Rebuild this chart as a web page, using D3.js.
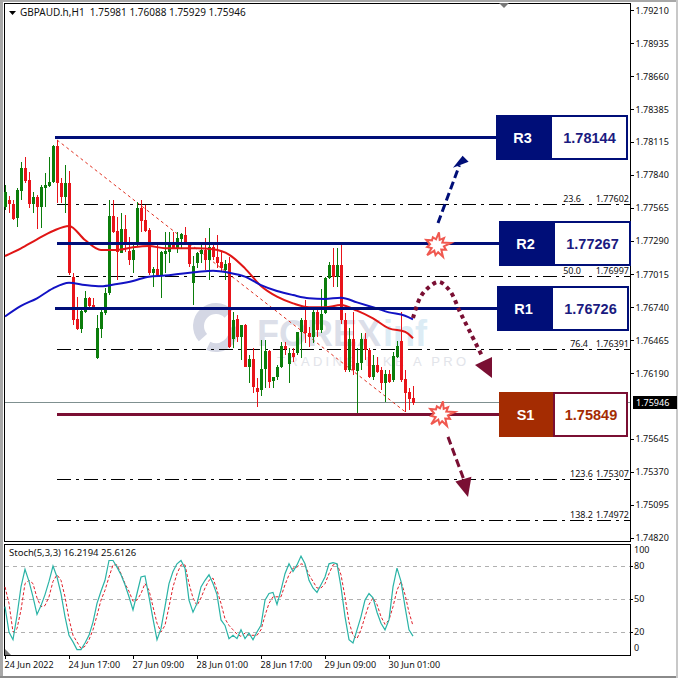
<!DOCTYPE html>
<html><head><meta charset="utf-8">
<script src="https://cdnjs.cloudflare.com/ajax/libs/d3/7.8.5/d3.min.js"></script>
<style>html,body{margin:0;padding:0;background:#fff}svg{display:block}
.ax text{font-family:"Noto Sans",sans-serif;font-size:9px;fill:#111}
.ax path,.ax line{stroke:#000;shape-rendering:crispEdges}</style>
</head><body><svg id="c" width="678" height="678"></svg>
<script>
const symbolTitle = "GBPAUD.h,H1  1.75981 1.76088 1.75929 1.75946";
const stochTitle = "Stoch(5,3,3) 16.2194 25.6126";
const priceTicks = [1.7921,1.78935,1.7866,1.78385,1.78115,1.7784,1.77565,1.7729,1.77015,1.7674,1.76465,1.7619,1.75645,1.7537,1.75095,1.7482];
const timeTickBars = [0,16,32,48,64,80,96];
const timeTickLabels = ["24 Jun 2022","24 Jun 17:00","27 Jun 09:00","28 Jun 01:00","28 Jun 17:00","29 Jun 09:00","30 Jun 01:00"];
const stochTicks = [100,80,50,20,0];
const stochLevels = [80,50,20];
const lastPrice = 1.75946;

const opens = [1.77571,1.77632,1.77598,1.77479,1.77709,1.77895,1.77798,1.77598,1.77654,1.77571,1.77729,1.77751,1.77784,1.78081,1.77776,1.77654,1.7777,1.76994,1.76639,1.76556,1.76703,1.76814,1.76759,1.76315,1.76556,1.76689,1.76856,1.77499,1.77374,1.77194,1.77388,1.77208,1.77133,1.77257,1.77562,1.77465,1.77382,1.77022,1.77055,1.77008,1.77183,1.77202,1.77266,1.7723,1.77305,1.77341,1.77257,1.76944,1.77105,1.77183,1.77216,1.77133,1.77244,1.77161,1.77119,1.7705,1.77105,1.76473,1.76639,1.76495,1.76592,1.76245,1.76306,1.76065,1.76051,1.76223,1.76378,1.76126,1.76157,1.7624,1.76417,1.76267,1.76362,1.76356,1.76536,1.76633,1.76528,1.76489,1.76697,1.7655,1.76689,1.7698,1.77091,1.76988,1.77091,1.76633,1.76218,1.76473,1.76212,1.76273,1.76473,1.76384,1.76157,1.76259,1.76218,1.76107,1.76184,1.76134,1.76328,1.76462,1.7614,1.76037,1.75981];
const highs = [1.77757,1.77665,1.77632,1.77729,1.7795,1.77992,1.77867,1.77701,1.77673,1.77757,1.77853,1.77992,1.78089,1.78131,1.77812,1.77923,1.77876,1.77027,1.76828,1.76731,1.76878,1.76828,1.76814,1.76675,1.76731,1.76897,1.77632,1.77632,1.77493,1.77521,1.77507,1.77327,1.77271,1.77618,1.77632,1.7759,1.77396,1.77077,1.77285,1.7721,1.77368,1.77368,1.77368,1.77368,1.77354,1.7741,1.77271,1.77166,1.77202,1.77285,1.77313,1.77396,1.77285,1.77341,1.77202,1.77133,1.7716,1.76703,1.76675,1.76592,1.766,1.76342,1.76398,1.76148,1.76467,1.76467,1.76384,1.76162,1.76259,1.76453,1.76453,1.76398,1.76398,1.76536,1.76647,1.768,1.76578,1.76744,1.7673,1.76888,1.76994,1.77118,1.77229,1.77229,1.77257,1.76689,1.76564,1.76703,1.76398,1.76523,1.76523,1.76398,1.76342,1.76328,1.76245,1.76218,1.76218,1.7637,1.76462,1.76703,1.76218,1.76065,1.76088];
const lows = [1.77549,1.77526,1.77465,1.77404,1.77632,1.7777,1.77562,1.77521,1.77388,1.77396,1.77576,1.77743,1.7777,1.77604,1.77604,1.77521,1.77008,1.76592,1.76551,1.76528,1.76695,1.76717,1.76717,1.7631,1.76481,1.76675,1.76842,1.77354,1.76966,1.77188,1.77202,1.77091,1.77022,1.77249,1.77368,1.77368,1.77008,1.76911,1.77,1.76814,1.77022,1.77105,1.77221,1.77194,1.7723,1.77257,1.77077,1.76759,1.77063,1.77105,1.7705,1.76966,1.77133,1.77063,1.77036,1.76966,1.76398,1.76398,1.76453,1.76301,1.7624,1.76107,1.76024,1.75907,1.76001,1.76065,1.76065,1.76065,1.76134,1.76231,1.76342,1.76107,1.76287,1.76342,1.76315,1.76439,1.76412,1.76445,1.76495,1.76523,1.76683,1.76972,1.76911,1.76911,1.766,1.76204,1.76204,1.76176,1.75863,1.76218,1.76301,1.76148,1.76134,1.76195,1.76051,1.75954,1.76107,1.76121,1.76315,1.76121,1.75871,1.75885,1.75929];
const closes = [1.77701,1.77598,1.77476,1.77715,1.77895,1.77792,1.77598,1.77654,1.77571,1.77737,1.77757,1.77784,1.78081,1.77776,1.77654,1.7777,1.77022,1.76634,1.76556,1.76711,1.76814,1.7675,1.76731,1.76565,1.76703,1.76856,1.77499,1.77368,1.77202,1.77388,1.77271,1.77133,1.77216,1.77562,1.7746,1.77377,1.77022,1.77055,1.77008,1.77202,1.7721,1.77266,1.7723,1.77313,1.77346,1.77271,1.771,1.77083,1.77188,1.77216,1.77133,1.77244,1.77161,1.77111,1.77063,1.771,1.76412,1.76633,1.76489,1.76592,1.76245,1.76306,1.76079,1.76037,1.76226,1.76378,1.76121,1.76162,1.7624,1.76417,1.76389,1.76362,1.76328,1.76536,1.76633,1.76523,1.76489,1.76697,1.7655,1.7668,1.7698,1.77091,1.76988,1.77091,1.76633,1.76218,1.76473,1.76218,1.76273,1.76473,1.76384,1.76157,1.76259,1.76204,1.76107,1.76184,1.76121,1.76334,1.76417,1.76134,1.76029,1.75974,1.75946];

const maBars = [0,4,8,12,16,20,24,28,32,36,40,44,48,52,56,60,64,68,72,76,80,84,88,92,96,100,102];
const maRed = [1.77166,1.7723,1.77305,1.77374,1.77416,1.77299,1.77216,1.77216,1.77238,1.77249,1.7723,1.7723,1.7723,1.77221,1.77178,1.77063,1.76916,1.76827,1.76772,1.76739,1.76739,1.76758,1.76711,1.76647,1.76564,1.76536,1.76481];
const maBlue = [1.76662,1.7675,1.76814,1.76897,1.76944,1.76925,1.76914,1.76933,1.76958,1.76994,1.77003,1.77019,1.77033,1.77044,1.77027,1.76994,1.76924,1.76875,1.76841,1.76814,1.76808,1.76819,1.7678,1.76739,1.76697,1.76669,1.76639];

const stochMain = [43,20,13,35,61,77,66,52,36,44,54,66,80,70,55,34,17,11,4,4,10,17,29,46,57,67,85,85,79,72,63,52,40,55,70,71,52,32,13,23,43,64,75,82,85,78,49,38,46,61,67,72,64,54,31,26,14,17,14,22,14,19,13,20,26,49,55,56,45,58,73,82,75,81,89,82,67,60,56,63,70,82,83,82,61,34,13,10,22,34,49,55,51,38,28,22,31,61,78,66,43,22,16.2];
const stochSignal = [61,46,20,23,40,64,67,64,51,43,44,52,66,72,67,52,32,17,11,5,7,13,22,35,49,58,70,81,81,73,64,57,48,49,55,64,58,43,28,20,26,43,61,73,81,81,64,51,44,51,60,67,69,58,46,32,26,22,18,16,19,17,17,17,22,35,46,52,52,52,63,72,78,79,82,81,72,66,60,60,64,73,81,82,72,52,29,17,14,22,34,45,51,45,34,27,31,43,58,66,54,38,25.6];

const fibLabels = ["23.6","50.0","76.4","123.6","138.2"];
const fibValues = [1.77602,1.76997,1.76391,1.75307,1.74972];
const levelNames = ["R3","R2","R1","S1"];
const levelValues = [1.78144,1.77267,1.76726,1.75849];

const W=678,H=678;
const x=d3.scaleLinear().domain([0,102]).range([5,413]);
const y=d3.scaleLinear().domain([1.77565,1.7482]).range([208,538]);
const yS=d3.scaleLinear().domain([0,100]).range([654,544]);
const svg=d3.select("#c");
const NAVY="#000e78",WINE="#7a0f33",RUST="#a42c02";

// window frame
svg.append("rect").attr("width",W).attr("height",H).attr("fill","#fff");
const frame=svg.append("g").attr("shape-rendering","crispEdges");
frame.append("rect").attr("x",0).attr("y",0).attr("width",3).attr("height",H).attr("fill","#a8a8a8");
frame.append("rect").attr("x",0).attr("y",0).attr("width",W).attr("height",2).attr("fill","#a8a8a8");
frame.append("rect").attr("x",0).attr("y",676).attr("width",W).attr("height",2).attr("fill","#8a8a8a");
frame.append("rect").attr("x",676).attr("y",0).attr("width",2).attr("height",H).attr("fill","#c8c8c8");
frame.append("rect").attr("x",4.5).attr("y",3.5).attr("width",626).attr("height",538).attr("fill","#fff").attr("stroke","#000");
frame.append("rect").attr("x",4.5).attr("y",544.5).attr("width",626).attr("height",111).attr("fill","#fff").attr("stroke","#000");

// watermark
const wm=svg.append("g");
const logo=d3.arc();
wm.append("path").attr("transform","translate(216,326)").attr("d",logo({innerRadius:12,outerRadius:23,startAngle:-2.3,endAngle:0.8})).attr("fill","#d4d7e4");
wm.append("path").attr("transform","translate(216,330)").attr("d",logo({innerRadius:13,outerRadius:22,startAngle:1.4,endAngle:3.6})).attr("fill","#d4d7e4");
wm.append("text").attr("x",257).attr("y",345.5).attr("font-family","Liberation Sans").attr("font-weight","700").attr("font-size",36).attr("fill","#dcdfe9").text("FOREX");
wm.append("text").attr("x",383).attr("y",345.5).attr("font-family","Liberation Sans").attr("font-weight","700").attr("font-size",36).attr("fill","#dcecf5").text("inf");
wm.append("text").attr("x",277).attr("y",365.5).attr("font-family","Liberation Sans").attr("font-size",13).attr("letter-spacing",3.3).attr("fill","#e2e4ea").text("TRADING LIKE A PRO");

// current price line
svg.append("line").attr("x1",5).attr("x2",630).attr("y1",y(lastPrice)).attr("y2",y(lastPrice)).attr("stroke","#7f9090").attr("stroke-width",1).attr("shape-rendering","crispEdges");

// fib levels
const fibX1=x(13);
svg.append("g").selectAll("line").data(fibValues).join("line")
 .attr("x1",fibX1).attr("x2",630).attr("y1",d=>Math.round(y(d))+.5).attr("y2",d=>Math.round(y(d))+.5)
 .attr("stroke","#000").attr("stroke-dasharray","14,5,3,5").attr("shape-rendering","crispEdges");
const fibBarHigh=13,fibBarLow=100;
svg.append("line").attr("x1",x(fibBarHigh)).attr("y1",y(highs[fibBarHigh])).attr("x2",x(fibBarLow)).attr("y2",y(lows[fibBarLow]))
 .attr("stroke","#e03020").attr("stroke-width",1).attr("stroke-dasharray","3,3");
const fibLabelEnd=[581,581,588,593,593];
const fibT=svg.append("g").attr("font-family","Noto Sans").attr("font-size",9).attr("fill","#111");
fibT.selectAll("text.a").data(fibValues).join("text").attr("class","a").attr("x",629).attr("text-anchor","end").attr("y",d=>y(d)-2).text(d=>d.toFixed(5));
fibT.selectAll("text.b").data(fibValues).join("text").attr("class","b").attr("x",(d,i)=>fibLabelEnd[i]).attr("text-anchor","end").attr("y",d=>y(d)-2).text((d,i)=>fibLabels[i]);

// candles
const cand=svg.append("g").attr("shape-rendering","crispEdges");
const GREEN="#0b7d0b",RED="#e8141a";
const col=i=>closes[i]>=opens[i]?GREEN:RED;
cand.selectAll("rect.w").data(opens).join("rect").attr("class","w")
 .attr("x",(d,i)=>x(i)).attr("width",1).attr("y",(d,i)=>y(highs[i])).attr("height",(d,i)=>y(lows[i])-y(highs[i])).attr("fill",(d,i)=>col(i));
cand.selectAll("rect.b").data(opens).join("rect").attr("class","b")
 .attr("x",(d,i)=>x(i)-1).attr("width",3).attr("y",(d,i)=>y(Math.max(opens[i],closes[i]))).attr("height",(d,i)=>Math.max(1,Math.abs(y(opens[i])-y(closes[i])))).attr("fill",(d,i)=>col(i));

// moving averages
const maLine=d3.line().x((d,i)=>x(maBars[i])).y(d=>y(d)).curve(d3.curveMonotoneX);
svg.append("path").attr("d",maLine(maRed)).attr("fill","none").attr("stroke","#e01515").attr("stroke-width",2);
svg.append("path").attr("d",maLine(maBlue)).attr("fill","none").attr("stroke","#1212c4").attr("stroke-width",2);

// support / resistance lines and boxes
const levelStartBars=[12.5,13,12.5,13];
const boxLeft=[496,499,497,499],boxRight=[628,631,629,628],boxSplit=[551,554,552,554];
const boxH=45;
const levelG=svg.append("g");
levelNames.forEach((n,i)=>{
 const yy=Math.floor(y(levelValues[i]))-(i===0?1:0)+.5;
 const c=n==="S1"?WINE:NAVY, fill=n==="S1"?RUST:NAVY, tc=n==="S1"?RUST:"#1a1a80";
 levelG.append("line").attr("x1",x(levelStartBars[i])).attr("x2",boxLeft[i]).attr("y1",yy).attr("y2",yy).attr("stroke",c).attr("stroke-width",3);
 const top=Math.round(yy-22.5);
 levelG.append("rect").attr("x",boxLeft[i]).attr("y",top).attr("width",boxSplit[i]-boxLeft[i]).attr("height",boxH).attr("fill",fill);
 levelG.append("rect").attr("x",boxSplit[i]).attr("y",top+1).attr("width",boxRight[i]-boxSplit[i]-1).attr("height",boxH-2).attr("fill","#fff").attr("stroke",n==="S1"?WINE:NAVY).attr("stroke-width",2);
 levelG.append("text").attr("x",(boxLeft[i]+boxSplit[i])/2-1).attr("y",yy+5).attr("text-anchor","middle").attr("font-family","Liberation Sans").attr("font-weight",700).attr("font-size",14.5).attr("fill","#fff").text(n);
 levelG.append("text").attr("x",(boxSplit[i]+boxRight[i])/2).attr("y",yy+5).attr("text-anchor","middle").attr("font-family","Liberation Sans").attr("font-weight",700).attr("font-size",14.5).attr("fill",tc).text(levelValues[i].toFixed(5));
});

// scenario arrows (bar index, price)
const upArrowBars=[108.25,113.6],upArrowPrices=[1.7744,1.7792];
const upHeadBars=[114.4,112,115.9],upHeadPrices=[1.78,1.7790,1.7795];
const curveBars=[102,103.75,105.75,108.5,111.25,113.75,116.25,119.5];
const curvePrices=[1.7665,1.76817,1.769,1.7695,1.76875,1.767,1.76534,1.76318];
const curveHeadBars=[121.75,117.5,121.75],curveHeadPrices=[1.76151,1.7626,1.76326];
const downArrowBars=[110.75,115],downArrowPrices=[1.75661,1.7528];
const downHeadBars=[115.75,112.6,116.6],downHeadPrices=[1.75162,1.7529,1.7533];
const arrows=svg.append("g");
const ln=d3.line().x(d=>x(d[0])).y(d=>y(d[1]));
const head=(b,p,c)=>arrows.append("polygon").attr("points",b.map((v,i)=>x(v)+","+y(p[i])).join(" ")).attr("fill",c);
arrows.append("path").attr("d",ln(d3.zip(upArrowBars,upArrowPrices))).attr("fill","none").attr("stroke",NAVY).attr("stroke-width",3).attr("stroke-dasharray","8,4");
head(upHeadBars,upHeadPrices,NAVY);
arrows.append("path").attr("d",ln.curve(d3.curveCatmullRom)(d3.zip(curveBars,curvePrices))).attr("fill","none").attr("stroke",WINE).attr("stroke-width",4).attr("stroke-dasharray","4,4");
head(curveHeadBars,curveHeadPrices,WINE);
ln.curve(d3.curveLinear);
arrows.append("path").attr("d",ln(d3.zip(downArrowBars,downArrowPrices))).attr("fill","none").attr("stroke",WINE).attr("stroke-width",3).attr("stroke-dasharray","8,4");
head(downHeadBars,downHeadPrices,WINE);

// burst marks
const burstBars=[108,109],burstPrices=[levelValues[1]-0.00012,levelValues[3]];
const burstRadii=[13,6,10,6,14,7,10,6,13,7,10,6,14,6,10,7,12,7,9,6];
const burstLine=d3.lineRadial().radius(d=>d).angle((d,i)=>i*2*Math.PI/burstRadii.length+0.15).curve(d3.curveLinearClosed);
burstBars.forEach((b,i)=>svg.append("path").attr("transform",`translate(${x(b)},${y(burstPrices[i])})`).attr("d",burstLine(burstRadii)).attr("fill","#fff").attr("stroke","#f0584f").attr("stroke-width",2));

// stochastic
const st=svg.append("g");
st.selectAll("line").data(stochLevels).join("line").attr("x1",5).attr("x2",630).attr("y1",d=>Math.round(yS(d))+.5).attr("y2",d=>Math.round(yS(d))+.5).attr("stroke","#b0b0b0").attr("stroke-dasharray","4,4").attr("shape-rendering","crispEdges");
const sl=d3.line().x((d,i)=>x(i)).y(d=>yS(d));
st.append("path").attr("d",sl(stochSignal)).attr("fill","none").attr("stroke","#e0202a").attr("stroke-dasharray","3,2");
st.append("path").attr("d",sl(stochMain)).attr("fill","none").attr("stroke","#2ab3a6").attr("stroke-width",1.2);
svg.append("polygon").attr("points","5,649 5,655 11,655").attr("fill","#777");

// axes
const yAxis=d3.axisRight(y).tickValues(priceTicks).tickSize(3).tickPadding(1.5).tickFormat(d3.format(".5f"));
svg.append("g").attr("class","ax").attr("transform","translate(631,0)").call(yAxis).call(g=>g.select(".domain").remove());
const sAxis=d3.axisRight(yS).tickValues(stochTicks).tickSize(2).tickPadding(1).tickFormat(d3.format("d"));
svg.append("g").attr("class","ax").attr("transform","translate(631,0)").call(sAxis).call(g=>g.select(".domain").remove())
 .call(g=>g.selectAll(".tick").attr("transform",d=>`translate(0,${d===100?550.5:d===0?648.5:Math.round(yS(d))+.5})`))
 .call(g=>g.selectAll(".tick").filter(d=>d===100||d===0).select("line").remove());
const xAxis=d3.axisBottom(x).tickValues(timeTickBars).tickSize(3).tickPadding(3).tickFormat((d,i)=>timeTickLabels[i]);
svg.append("g").attr("class","ax").attr("transform","translate(0,655.5)").call(xAxis).call(g=>g.select(".domain").remove())
 .call(g=>g.selectAll("text").attr("text-anchor","start").attr("x",-1));

// last price tag
svg.append("rect").attr("x",633).attr("y",Math.round(y(lastPrice))-7).attr("width",44).attr("height",13).attr("fill","#000");
svg.append("text").attr("x",636).attr("y",y(lastPrice)+3).attr("font-family","Noto Sans").attr("font-size",9).attr("fill","#fff").text(lastPrice.toFixed(5));

// headers
svg.append("polygon").attr("points","9,11 16,11 12.5,15").attr("fill","#000");
svg.append("text").attr("x",20).attr("y",16).attr("font-family","Noto Sans").attr("font-size",10).attr("fill","#111").attr("xml:space","preserve").text(symbolTitle);
svg.append("text").attr("x",9).attr("y",556).attr("font-family","Noto Sans").attr("font-size",9.5).attr("fill","#111").text(stochTitle);
svg.append("polygon").attr("points","499,3 509,3 504,8").attr("fill","#777");
</script></body></html>
